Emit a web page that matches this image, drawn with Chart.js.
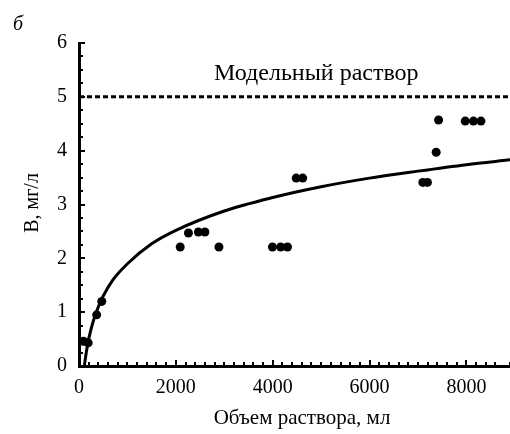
<!DOCTYPE html>
<html>
<head>
<meta charset="utf-8">
<script src="https://cdn.jsdelivr.net/npm/chart.js@4.4.1/dist/chart.umd.min.js"></script>
<style>
body { margin: 0; background: #fff; }
#box { width: 510px; height: 434px; position: relative; }
</style>
</head>
<body>
<div id="box"><canvas id="chart"></canvas></div>
<script>
// measured points
var ptX = [90, 190, 365, 470, 2090, 2260, 2465, 2600, 2890, 3995, 4165, 4305, 4485, 4620, 7100, 7195, 7375, 7425, 7975, 8145, 8300];
var ptY = [0.46, 0.43, 0.95, 1.2, 2.21, 2.47, 2.49, 2.49, 2.21, 2.21, 2.21, 2.21, 3.49, 3.49, 3.41, 3.41, 3.97, 4.57, 4.55, 4.55, 4.55];

// trend curve
var fitX = [110, 150, 200, 300, 400, 500, 700, 1000, 1500, 2000, 3000, 4000, 5000, 6000, 7000, 8000, 8900];
var fitY = [0.0, 0.25, 0.5, 0.85, 1.1, 1.3, 1.6, 1.9, 2.27, 2.52, 2.88, 3.13, 3.33, 3.49, 3.62, 3.74, 3.83];

// model solution level
var modelX = [0, 8900];
var modelY = [5, 5];

var xTicks = [0, 2000, 4000, 6000, 8000];
var yTicks = [0, 1, 2, 3, 4, 5, 6];

var serif = "'Liberation Serif', 'Times New Roman', serif";

function toXY(xs, ys) {
	var out = [];
	for (var i = 0; i < xs.length; i++) out.push({ x: xs[i], y: ys[i] });
	return out;
}

// inward tick marks + texts
var extras = {
	id: 'extras',
	afterDraw: function (chart) {
		var ctx = chart.ctx;
		var xs = chart.scales.x, ys = chart.scales.y;
		var area = chart.chartArea;
		ctx.save();
		ctx.strokeStyle = '#000';
		ctx.lineWidth = 2;
		xs.ticks.forEach(function (t) {
			var px = Math.round(xs.getPixelForValue(t.value));
			var len = xTicks.indexOf(t.value) >= 0 ? 6 : 4;
			ctx.beginPath();
			ctx.moveTo(px, area.bottom);
			ctx.lineTo(px, area.bottom - len);
			ctx.stroke();
		});
		ys.ticks.forEach(function (t) {
			var py = Math.round(ys.getPixelForValue(t.value));
			var len = yTicks.indexOf(t.value) >= 0 ? 6 : 4;
			ctx.beginPath();
			ctx.moveTo(area.left, py);
			ctx.lineTo(area.left + len, py);
			ctx.stroke();
		});

		ctx.fillStyle = '#000';
		ctx.textAlign = 'center';
		ctx.textBaseline = 'middle';
		ctx.font = '24px ' + serif;
		ctx.fillText('Модельный раствор', xs.getPixelForValue(4900), ys.getPixelForValue(5.43));

		ctx.font = '21px ' + serif;
		ctx.fillText('Объем раствора, мл', 302, 418);

		ctx.save();
		ctx.translate(33, 203);
		ctx.rotate(-Math.PI / 2);
		ctx.font = '20px ' + serif;
		ctx.fillText('B, мг/л', 0, 0);
		ctx.restore();

		ctx.font = 'italic 20px ' + serif;
		ctx.fillText('б', 18, 25);
		ctx.restore();
	}
};

var ctx = document.getElementById('chart');

new Chart(ctx, {
	type: 'scatter',
	data: {
		datasets: [
			{
				label: 'model',
				type: 'line',
				data: toXY(modelX, modelY),
				borderColor: '#000',
				borderWidth: 3,
				borderDash: [5, 3],
				pointRadius: 0,
				fill: false
			},
			{
				label: 'fit',
				type: 'line',
				data: toXY(fitX, fitY),
				borderColor: '#000',
				borderWidth: 3,
				pointRadius: 0,
				cubicInterpolationMode: 'monotone',
				fill: false
			},
			{
				label: 'B',
				data: toXY(ptX, ptY),
				backgroundColor: '#000',
				borderColor: '#000',
				pointRadius: 4.5,
				pointBorderWidth: 0
			}
		]
	},
	options: {
		responsive: true,
		maintainAspectRatio: false,
		animation: false,
		layout: { autoPadding: false, padding: { top: 43, right: 0, left: 0, bottom: 0 } },
		plugins: {
			legend: { display: false },
			tooltip: { enabled: false }
		},
		scales: {
			x: {
				type: 'linear',
				min: 0,
				max: 8900,
				grid: { display: false, drawTicks: false },
				border: { display: true, color: '#000', width: 3 },
				ticks: {
					stepSize: 200,
					autoSkip: false,
					maxRotation: 0,
					padding: 10,
					color: '#000',
					font: { family: serif, size: 20 },
					callback: function (v) { return xTicks.indexOf(v) >= 0 ? String(v) : ''; }
				},
				afterFit: function (s) {
					s.height = 68;
					s.paddingLeft = 0;
					s.paddingRight = 0;
				}
			},
			y: {
				min: 0,
				max: 6,
				grid: { display: false, drawTicks: false },
				border: { display: true, color: '#000', width: 3 },
				ticks: {
					stepSize: 0.25,
					autoSkip: false,
					padding: 12,
					color: '#000',
					font: { family: serif, size: 20 },
					callback: function (v) { return yTicks.indexOf(v) >= 0 ? String(v) : ''; }
				},
				afterFit: function (s) { s.width = 79; }
			}
		}
	},
	plugins: [extras]
});
</script>
</body>
</html>
